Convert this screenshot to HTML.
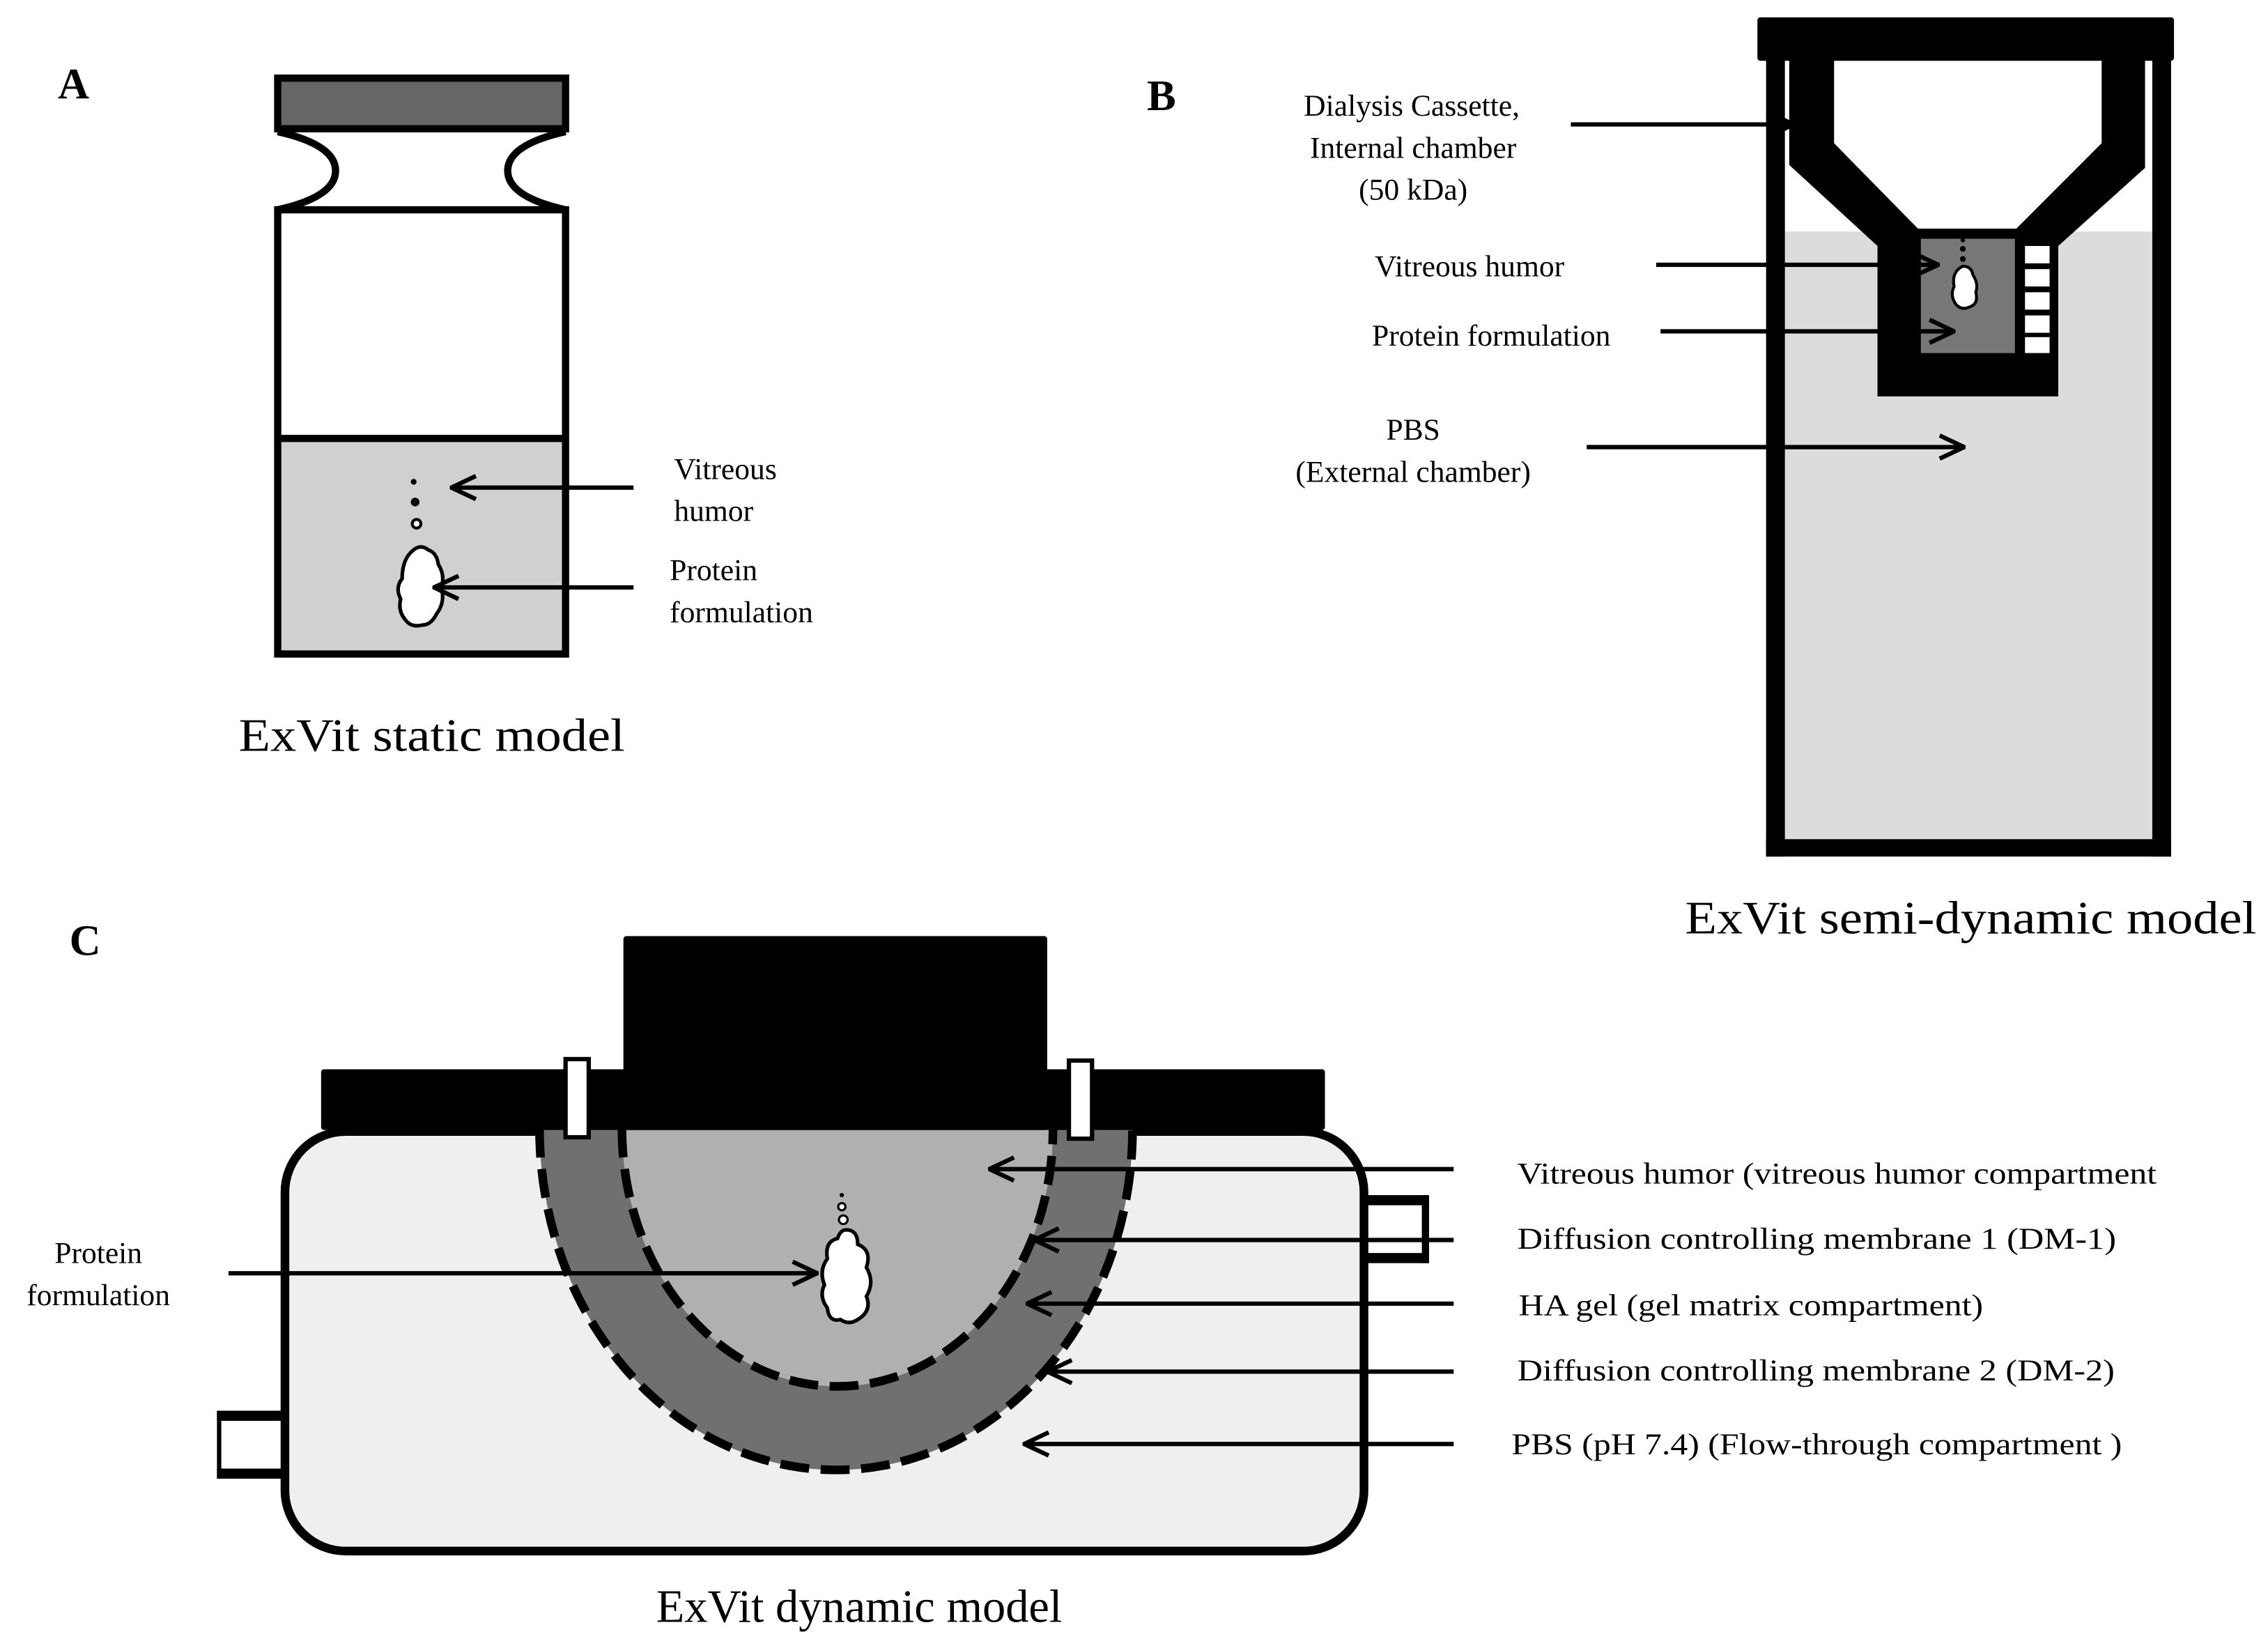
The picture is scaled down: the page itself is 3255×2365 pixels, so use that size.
<!DOCTYPE html>
<html><head><meta charset="utf-8"><style>html,body{margin:0;padding:0;background:#fff}svg{display:block}svg text{font-family:"Liberation Serif",serif}</style></head>
<body>
<svg width="3255" height="2365" viewBox="0 0 1568 1139" preserveAspectRatio="none" xmlns="http://www.w3.org/2000/svg">
<defs>
<marker id="ah" viewBox="0 0 20 20" refX="19" refY="10" markerWidth="20" markerHeight="20" markerUnits="userSpaceOnUse" orient="auto">
<path d="M2,2 L19,10 L2,18" fill="none" stroke="#000" stroke-width="3"/>
</marker>
</defs>
<rect width="1568" height="1139" fill="#fff"/>

<!-- Panel A -->
<text x="40" y="68" font-size="30" font-weight="bold">A</text>
<rect x="192" y="54" width="199" height="35" fill="#666" stroke="#000" stroke-width="5"/>
<path d="M192,91 Q232,100 232,118 Q232,136 192,145 M391,91 Q351,100 351,118 Q351,136 391,145" fill="none" stroke="#000" stroke-width="5"/>
<rect x="192" y="303" width="199" height="149" fill="#d0d0d0"/>
<rect x="192" y="145" width="199" height="307" fill="none" stroke="#000" stroke-width="5"/>
<line x1="192" y1="303" x2="391" y2="303" stroke="#000" stroke-width="5"/>
<circle cx="286" cy="333" r="2" fill="#000"/><circle cx="287" cy="347" r="3" fill="#000"/><circle cx="288" cy="362" r="3" fill="#fff" stroke="#000" stroke-width="2"/>
<path d="M286,380 q5,-4 10,0 q6,2 7,10 q5,8 2,16 q3,10 -3,18 q-4,8 -10,8 q-8,2 -12,-4 q-5,-6 -3,-14 q-4,-8 1,-14 q0,-14 8,-20z" fill="#fff" stroke="#000" stroke-width="2.5"/>
<line x1="438" y1="337" x2="312" y2="337" stroke="#000" stroke-width="3" marker-end="url(#ah)"/>
<line x1="438" y1="406" x2="300" y2="406" stroke="#000" stroke-width="3" marker-end="url(#ah)"/>
<text x="466" y="331" font-size="21">Vitreous</text>
<text x="466" y="360" font-size="21">humor</text>
<text x="463" y="401" font-size="21">Protein</text>
<text x="463" y="430" font-size="21">formulation</text>
<text x="165" y="519" font-size="32" textLength="267" lengthAdjust="spacingAndGlyphs">ExVit static model</text>

<!-- Panel B -->
<text x="793" y="76" font-size="30" font-weight="bold">B</text>
<rect x="1233" y="160" width="256" height="422" fill="#dcdcdc"/>
<rect x="1221" y="20" width="13" height="572" fill="#000"/>
<rect x="1488" y="20" width="13" height="572" fill="#000"/>
<rect x="1221" y="580" width="280" height="12" fill="#000"/>
<rect x="1215" y="12" width="288" height="30" fill="#000" rx="2"/>
<path d="M1237,30 L1483,30 L1483,116 L1423,170 L1423,274 L1298,274 L1298,170 L1237,114 Z" fill="#000"/>
<path d="M1268,42 L1453,42 L1453,99 L1394,158 L1326,158 L1268,99 Z" fill="#fff"/>
<rect x="1328" y="165" width="65" height="79" fill="#777"/>
<g fill="#fff"><rect x="1400" y="170" width="17" height="12"/><rect x="1400" y="186" width="17" height="12"/><rect x="1400" y="202" width="17" height="12"/><rect x="1400" y="218" width="17" height="12"/><rect x="1400" y="233" width="17" height="11"/></g>
<circle cx="1357" cy="166" r="1.5" fill="#000"/><circle cx="1357" cy="172" r="2" fill="#000"/><circle cx="1357" cy="179" r="2" fill="#000"/>
<path d="M1357,184 q6,0 7,6 q4,6 2,12 q2,8 -4,10 q-6,3 -10,-2 q-4,-6 -1,-12 q-2,-10 6,-14z" fill="#fff" stroke="#000" stroke-width="2"/>
<line x1="1086" y1="86" x2="1240" y2="86" stroke="#000" stroke-width="3" marker-end="url(#ah)"/>
<line x1="1145" y1="183" x2="1340" y2="183" stroke="#000" stroke-width="3" marker-end="url(#ah)"/>
<line x1="1148" y1="229" x2="1351" y2="229" stroke="#000" stroke-width="3" marker-end="url(#ah)"/>
<line x1="1097" y1="309" x2="1358" y2="309" stroke="#000" stroke-width="3" marker-end="url(#ah)"/>
<g font-size="21" text-anchor="middle">
<text x="976" y="80">Dialysis Cassette,</text>
<text x="977" y="109">Internal chamber</text>
<text x="977" y="138">(50 kDa)</text>
<text x="1016" y="191">Vitreous humor</text>
<text x="1031" y="239">Protein formulation</text>
<text x="977" y="304">PBS</text>
<text x="977" y="333">(External chamber)</text>
</g>
<text x="1165" y="645" font-size="32" textLength="395" lengthAdjust="spacingAndGlyphs">ExVit semi-dynamic model</text>

<!-- Panel C -->
<text x="48" y="660" font-size="30" font-weight="bold">C</text>
<rect x="940" y="826" width="48" height="47" fill="#fff"/>
<rect x="940" y="826" width="48" height="7" fill="#000"/><rect x="940" y="866" width="48" height="7" fill="#000"/><rect x="983" y="826" width="5" height="47" fill="#000"/>
<rect x="150" y="975" width="50" height="47" fill="#fff"/>
<rect x="150" y="975" width="50" height="7" fill="#000"/><rect x="150" y="1015" width="50" height="7" fill="#000"/><rect x="150" y="975" width="3" height="47" fill="#000"/>
<rect x="197" y="782" width="746" height="290" rx="42" fill="#efefef" stroke="#000" stroke-width="6"/>
<path d="M373,780 A205,236 0 0 0 783,780 Z" fill="#707070"/>
<path d="M430,780 A148,177 0 0 0 728,780 Z" fill="#b0b0b0"/>
<path d="M373,780 A205,236 0 0 0 783,780" fill="none" stroke="#000" stroke-width="6" stroke-dasharray="20 8"/>
<path d="M430,780 A148,177 0 0 0 728,780" fill="none" stroke="#000" stroke-width="6" stroke-dasharray="20 8"/>
<rect x="222" y="739" width="694" height="42" fill="#000" rx="2"/>
<rect x="431" y="647" width="293" height="134" fill="#000" rx="2"/>
<rect x="391" y="732" width="16" height="54" fill="#fff" stroke="#000" stroke-width="3"/>
<rect x="739" y="733" width="16" height="54" fill="#fff" stroke="#000" stroke-width="3"/>
<circle cx="582" cy="826" r="1.5" fill="#000"/><circle cx="582" cy="834" r="2.5" fill="#fff" stroke="#000" stroke-width="1.5"/><circle cx="583" cy="843" r="3" fill="#fff" stroke="#000" stroke-width="1.5"/>
<path d="M585,850 q8,0 8,10 q10,4 6,16 q6,10 0,20 q4,10 -6,16 q-6,4 -12,0 q-8,2 -9,-8 q-6,-8 -2,-16 q-4,-10 2,-18 q-2,-12 7,-14 q2,-6 6,-6z" fill="#fff" stroke="#000" stroke-width="2.5"/>
<line x1="158" y1="880" x2="565" y2="880" stroke="#000" stroke-width="3" marker-end="url(#ah)"/>
<line x1="1005" y1="808" x2="684" y2="808" stroke="#000" stroke-width="3" marker-end="url(#ah)"/>
<line x1="1005" y1="857" x2="715" y2="857" stroke="#000" stroke-width="3" marker-end="url(#ah)"/>
<line x1="1005" y1="901" x2="710" y2="901" stroke="#000" stroke-width="3" marker-end="url(#ah)"/>
<line x1="1005" y1="948" x2="724" y2="948" stroke="#000" stroke-width="3" marker-end="url(#ah)"/>
<line x1="1005" y1="998" x2="708" y2="998" stroke="#000" stroke-width="3" marker-end="url(#ah)"/>
<g font-size="21">
<text x="1049" y="818" textLength="442" lengthAdjust="spacingAndGlyphs">Vitreous humor (vitreous humor compartment</text>
<text x="1049" y="863" textLength="414" lengthAdjust="spacingAndGlyphs">Diffusion controlling  membrane 1 (DM-1)</text>
<text x="1050" y="909" textLength="321" lengthAdjust="spacingAndGlyphs">HA gel (gel matrix compartment)</text>
<text x="1049" y="954" textLength="413" lengthAdjust="spacingAndGlyphs">Diffusion controlling  membrane 2 (DM-2)</text>
<text x="1045" y="1005" textLength="422" lengthAdjust="spacingAndGlyphs">PBS (pH 7.4) (Flow-through compartment )</text>
<text x="68" y="873" text-anchor="middle">Protein</text>
<text x="68" y="902" text-anchor="middle">formulation</text>
</g>
<text x="594" y="1121" font-size="32" text-anchor="middle">ExVit dynamic model</text>
</svg>
</body></html>
